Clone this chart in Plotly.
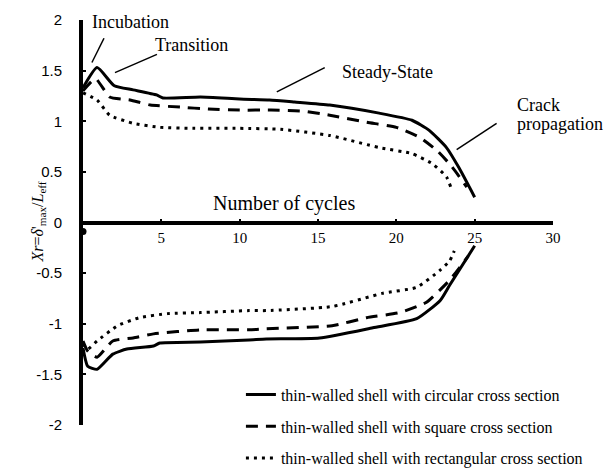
import plotly.graph_objects as go

# cycles vs. Xr for three shell cross sections (upper / lower branch)
circ_up_x = [0, 0.9, 2.0, 3.2, 4.7, 5.1, 7.5, 10, 11.9, 13.5, 15.75, 18.9, 21.0, 22.1, 23.2, 24.0, 25.0]
circ_up_y = [1.33, 1.53, 1.35, 1.31, 1.26, 1.23, 1.24, 1.22, 1.21, 1.19, 1.16, 1.08, 1.01, 0.91, 0.74, 0.54, 0.25]
sq_up_x = [0, 0.8, 1.7, 3.0, 4.3, 6.2, 8, 10, 12, 14, 15.75, 18.1, 20.0, 21.5, 22.6, 23.5, 24.5]
sq_up_y = [1.30, 1.42, 1.24, 1.21, 1.16, 1.14, 1.12, 1.11, 1.11, 1.10, 1.06, 0.99, 0.94, 0.84, 0.71, 0.56, 0.35]
rect_up_x = [0, 0.9, 1.7, 3.2, 4.9, 7, 10, 12.6, 15.75, 18.9, 21.0, 22.3, 23.2, 23.5]
rect_up_y = [1.28, 1.21, 1.06, 0.98, 0.94, 0.93, 0.93, 0.92, 0.86, 0.74, 0.68, 0.58, 0.45, 0.34]

circ_lo_x = [0, 0.3, 0.9, 1.9, 2.8, 4.5, 4.9, 7.5, 10.6, 11.7, 15.1, 18.5, 21.3, 22.8, 23.4, 25.0]
circ_lo_y = [-1.24, -1.42, -1.45, -1.30, -1.25, -1.22, -1.19, -1.18, -1.16, -1.15, -1.14, -1.04, -0.95, -0.77, -0.62, -0.23]
sq_lo_x = [0, 0.3, 0.9, 1.9, 3.2, 4.5, 7.5, 10.6, 11.7, 15.9, 18.1, 20.2, 21.9, 23.4, 24.6]
sq_lo_y = [-1.17, -1.27, -1.33, -1.17, -1.14, -1.10, -1.06, -1.06, -1.05, -1.02, -0.94, -0.89, -0.79, -0.57, -0.33]
rect_lo_x = [0, 0.3, 0.9, 2.2, 3.6, 5.4, 7.5, 10.6, 11.7, 15.9, 19.1, 21.3, 22.8, 23.4, 23.7]
rect_lo_y = [-1.20, -1.25, -1.17, -1.02, -0.94, -0.90, -0.89, -0.87, -0.87, -0.83, -0.70, -0.64, -0.47, -0.38, -0.28]

names = [
    "thin-walled shell with circular cross section",
    "thin-walled shell with square cross section",
    "thin-walled shell with rectangular cross section",
]
dashes = ["solid", "12px,8px", "3px,5px"]
series = [
    (circ_up_x, circ_up_y, circ_lo_x, circ_lo_y),
    (sq_up_x, sq_up_y, sq_lo_x, sq_lo_y),
    (rect_up_x, rect_up_y, rect_lo_x, rect_lo_y),
]

x_ticks = [0, 5, 10, 15, 20, 25, 30]
x_tick_text = ["", "5", "10", "15", "20", "25", "30"]
y_ticks = [-2, -1.5, -1, -0.5, 0, 0.5, 1, 1.5, 2]
y_tick_text = ["-2", "-1.5", "-1", "-0.5", "0", "0.5", "1", "1.5", "2"]

serif = "Liberation Serif, Times New Roman, serif"
sans = "Liberation Sans, Arial, sans-serif"

fig = go.Figure()
for i, (ux, uy, lx, ly) in enumerate(series):
    line = dict(color="black", width=3, dash=dashes[i], shape="spline", smoothing=0.5)
    fig.add_trace(go.Scatter(x=ux, y=uy, mode="lines", line=line, name=names[i],
                             legendgroup=f"g{i}", showlegend=True))
    fig.add_trace(go.Scatter(x=lx, y=ly, mode="lines", line=line, name=names[i],
                             legendgroup=f"g{i}", showlegend=False))

# marker sitting at the origin
fig.add_trace(go.Scatter(x=[0], y=[-0.09], mode="markers", showlegend=False,
                         marker=dict(color="black", size=7, symbol="circle"), cliponaxis=False))

# phase labels with leader lines
labels = [
    ("Incubation", 0.45, 1.98, (1.34, 1.82, 0.57, 1.58)),
    ("Transition", 4.45, 1.75, (4.72, 1.66, 2.04, 1.48)),
    ("Steady-State", 16.4, 1.49, (15.43, 1.53, 12.37, 1.29)),
    ("Crack", 27.6, 1.16, (26.4, 0.98, 23.85, 0.72)),
]
for text, tx, ty, (x0, y0, x1, y1) in labels:
    fig.add_annotation(x=tx, y=ty, text=text, showarrow=False, xanchor="left",
                       font=dict(family=serif, size=18, color="black"))
    fig.add_shape(type="line", x0=x0, y0=y0, x1=x1, y1=y1, xref="x", yref="y",
                  line=dict(color="black", width=1.5))
fig.add_annotation(x=27.6, y=0.97, text="propagation", showarrow=False, xanchor="left",
                   font=dict(family=serif, size=18, color="black"))
fig.add_annotation(x=12.8, y=0.19, text="Number of cycles", showarrow=False,
                   font=dict(family=serif, size=20, color="black"))
fig.add_annotation(xref="paper", yref="paper", x=-0.12, y=0.5, textangle=-90,
                   text="<i>Xr</i>=<i>δ</i>'<sub>max</sub>/<i>L</i><sub>eff</sub>",
                   showarrow=False, font=dict(family=serif, size=16, color="black"))

fig.update_layout(
    width=612, height=468,
    margin=dict(l=83, r=59, t=20, b=43, autoexpand=False),
    paper_bgcolor="white", plot_bgcolor="white",
    showlegend=True,
    legend=dict(x=0.336, y=0.117, xanchor="left", yanchor="top", tracegroupgap=8,
                bgcolor="rgba(0,0,0,0)", font=dict(family=serif, size=16, color="black")),
    xaxis=dict(range=[0, 30], tickvals=x_ticks, ticktext=x_tick_text, automargin=False,
               showgrid=False, zeroline=False, showline=False,
               anchor="free", position=0.5, ticks="inside", ticklen=4, tickwidth=2,
               tickcolor="black", ticklabelstandoff=4,
               tickfont=dict(family=serif, size=15, color="black")),
    yaxis=dict(range=[-2, 2], tickvals=y_ticks, ticktext=y_tick_text, automargin=False,
               showgrid=False, zeroline=True, zerolinewidth=4, zerolinecolor="black",
               showline=True, linewidth=4, linecolor="black",
               ticks="inside", ticklen=3, tickwidth=2, tickcolor="black", ticklabelstandoff=14,
               tickfont=dict(family=sans, size=15, color="black")),
)

# drop the browser's default body margin so the figure sits at the page corner
fig.write_html("out.html", config={"displayModeBar": False},
               post_script="document.body.style.margin='0';")
